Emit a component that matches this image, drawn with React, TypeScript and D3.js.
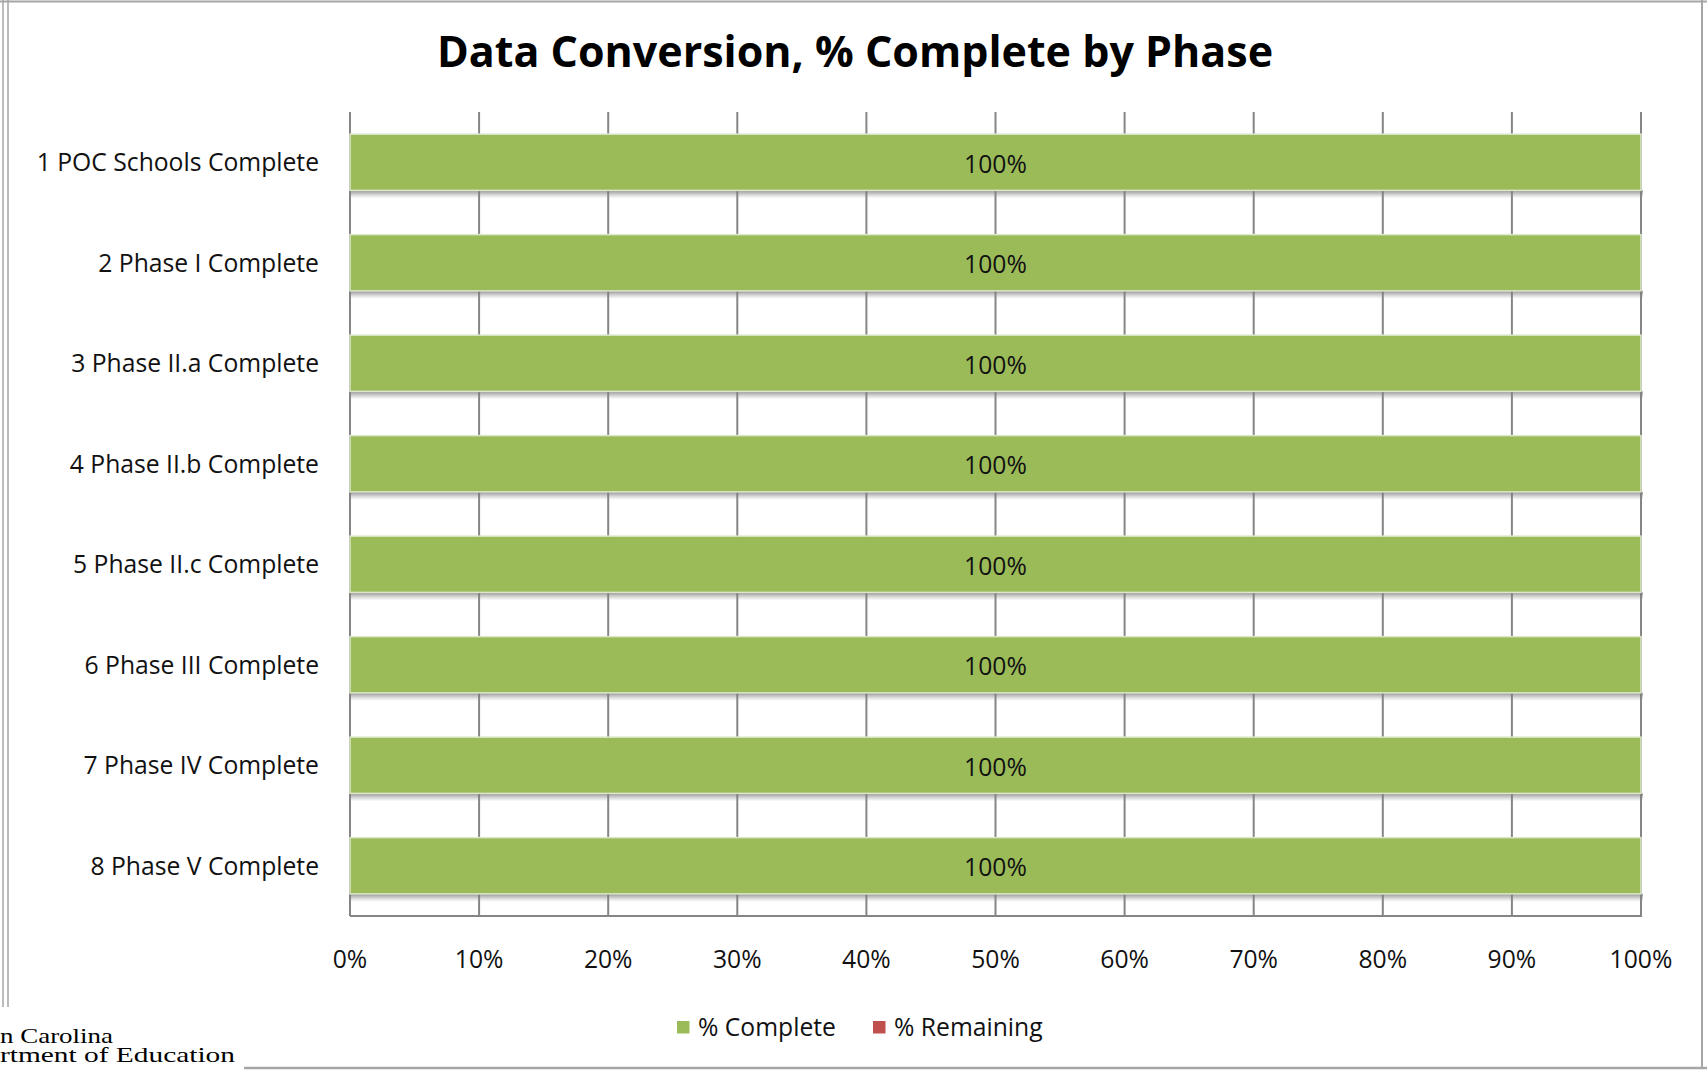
import React, { useEffect, useRef } from 'react';
import * as d3 from 'd3';

const categories = [
  '1 POC Schools Complete',
  '2 Phase I Complete',
  '3 Phase II.a Complete',
  '4 Phase II.b Complete',
  '5 Phase II.c Complete',
  '6 Phase III Complete',
  '7 Phase IV Complete',
  '8 Phase V Complete',
];
const pctComplete = [100, 100, 100, 100, 100, 100, 100, 100];
const pctRemaining = [0, 0, 0, 0, 0, 0, 0, 0];
const seriesNames = ['% Complete', '% Remaining'];
const seriesColors = ['#9BBB59', '#C0504D'];
const xTicks = [0, 10, 20, 30, 40, 50, 60, 70, 80, 90, 100];

const FONT = "'Open Sans', 'DejaVu Sans', sans-serif";
const SERIF = "'Liberation Serif', 'DejaVu Serif', serif";
const LABEL_SIZE = 24.7;

export default function App() {
  const svgRef = useRef<SVGSVGElement>(null);

  useEffect(() => {
    if (!svgRef.current) return;
    const width = 1707;
    const height = 1070;
    const left = 350;
    const right = 1641;
    const top = 112;
    const bottom = 916;

    const svg = d3.select(svgRef.current);
    svg.selectAll('*').remove();
    svg.attr('width', width).attr('height', height);

    const defs = svg.append('defs');
    const grad = defs
      .append('linearGradient')
      .attr('id', 'shadow')
      .attr('x1', 0)
      .attr('y1', 0)
      .attr('x2', 0)
      .attr('y2', 1);
    grad.append('stop').attr('offset', '0%').attr('stop-color', '#6e6e6e').attr('stop-opacity', 0.75);
    grad.append('stop').attr('offset', '100%').attr('stop-color', '#9a9a9a').attr('stop-opacity', 0);

    svg.append('rect').attr('width', width).attr('height', height).attr('fill', '#fff');

    // outer frame
    svg.append('line').attr('x1', 0).attr('x2', width).attr('y1', 1.5).attr('y2', 1.5)
      .attr('stroke', '#a6a6a6').attr('stroke-width', 2);
    svg.append('line').attr('x1', 1702).attr('x2', 1702).attr('y1', 0).attr('y2', 1069)
      .attr('stroke', '#a6a6a6').attr('stroke-width', 2);
    svg.append('line').attr('x1', 244).attr('x2', width).attr('y1', 1068).attr('y2', 1068)
      .attr('stroke', '#a6a6a6').attr('stroke-width', 2.5);
    svg.append('line').attr('x1', 3).attr('x2', 3).attr('y1', 0).attr('y2', 1007)
      .attr('stroke', '#a6a6a6').attr('stroke-width', 1.5);
    svg.append('line').attr('x1', 8).attr('x2', 8).attr('y1', 0).attr('y2', 1007)
      .attr('stroke', '#a6a6a6').attr('stroke-width', 1.5);

    const x = d3.scaleLinear().domain([0, 100]).range([left, right]);
    const y = d3.scaleBand<string>().domain(categories).range([top, bottom]).paddingInner(0.44).paddingOuter(0.22);

    // title
    svg.append('text')
      .attr('x', 855)
      .attr('y', 67)
      .attr('text-anchor', 'middle')
      .attr('font-family', FONT)
      .attr('font-weight', 700)
      .attr('font-size', 43)
      .attr('fill', '#000')
      .text('Data Conversion, % Complete by Phase');

    // gridlines
    svg.append('g')
      .selectAll('line')
      .data(xTicks)
      .enter()
      .append('line')
      .attr('x1', d => x(d))
      .attr('x2', d => x(d))
      .attr('y1', top)
      .attr('y2', bottom)
      .attr('stroke', '#858585')
      .attr('stroke-width', 2);

    svg.append('line').attr('x1', left).attr('x2', right + 1).attr('y1', bottom).attr('y2', bottom)
      .attr('stroke', '#858585').attr('stroke-width', 2);

    const rows = categories.map((c, i) => ({ cat: c, complete: pctComplete[i], remaining: pctRemaining[i] }));
    const stacked = d3.stack<any>().keys(['complete', 'remaining'])(rows);

    // shadows under bars
    svg.append('g')
      .selectAll('rect')
      .data(rows)
      .enter()
      .append('rect')
      .attr('x', left)
      .attr('y', d => (y(d.cat) as number) + y.bandwidth())
      .attr('width', d => x(d.complete + d.remaining) - left + 2)
      .attr('height', 8)
      .attr('fill', 'url(#shadow)');

    stacked.forEach((s, si) => {
      svg.append('g')
        .selectAll('rect')
        .data(s)
        .enter()
        .append('rect')
        .attr('x', d => x(d[0]))
        .attr('y', d => y(d.data.cat) as number)
        .attr('width', d => Math.max(0, x(d[1]) - x(d[0])))
        .attr('height', y.bandwidth())
        .attr('fill', seriesColors[si])
        .attr('stroke', '#dde7cc')
        .attr('stroke-width', 1.5);
    });

    // bar labels
    svg.append('g')
      .selectAll('text')
      .data(rows)
      .enter()
      .append('text')
      .attr('x', d => x(d.complete / 2))
      .attr('y', d => (y(d.cat) as number) + y.bandwidth() / 2 + 1.5)
      .attr('dy', '0.36em')
      .attr('text-anchor', 'middle')
      .attr('font-family', FONT)
      .attr('font-size', LABEL_SIZE)
      .attr('fill', '#111')
      .text(d => `${d.complete}%`);

    // category labels
    svg.append('g')
      .selectAll('text')
      .data(categories)
      .enter()
      .append('text')
      .attr('x', 319)
      .attr('y', d => (y(d) as number) + y.bandwidth() / 2)
      .attr('dy', '0.36em')
      .attr('text-anchor', 'end')
      .attr('font-family', FONT)
      .attr('font-size', LABEL_SIZE)
      .attr('fill', '#111')
      .text(d => d);

    // x tick labels
    svg.append('g')
      .selectAll('text')
      .data(xTicks)
      .enter()
      .append('text')
      .attr('x', d => x(d))
      .attr('y', 959)
      .attr('dy', '0.36em')
      .attr('text-anchor', 'middle')
      .attr('font-family', FONT)
      .attr('font-size', LABEL_SIZE)
      .attr('fill', '#111')
      .text(d => `${d}%`);

    // legend
    const legendX = [677, 873];
    const lg = svg.append('g');
    seriesNames.forEach((name, i) => {
      lg.append('rect')
        .attr('x', legendX[i])
        .attr('y', 1021)
        .attr('width', 12.5)
        .attr('height', 12.5)
        .attr('fill', seriesColors[i]);
      lg.append('text')
        .attr('x', legendX[i] + 21)
        .attr('y', 1027)
        .attr('dy', '0.36em')
        .attr('font-family', FONT)
        .attr('font-size', LABEL_SIZE)
        .attr('fill', '#111')
        .text(name);
    });

    // cropped logo text from the slide behind
    svg.append('text').attr('x', 0).attr('y', 1043)
      .attr('font-family', SERIF).attr('font-size', 22).attr('fill', '#000')
      .attr('textLength', 113).attr('lengthAdjust', 'spacingAndGlyphs')
      .text('n Carolina');
    svg.append('text').attr('x', 0).attr('y', 1062)
      .attr('font-family', SERIF).attr('font-size', 22).attr('fill', '#000')
      .attr('textLength', 235).attr('lengthAdjust', 'spacingAndGlyphs')
      .text('rtment of Education');
  }, []);

  return (
    <div style={{ position: 'absolute', left: 0, top: 0 }}>
      <svg ref={svgRef}></svg>
    </div>
  );
}
